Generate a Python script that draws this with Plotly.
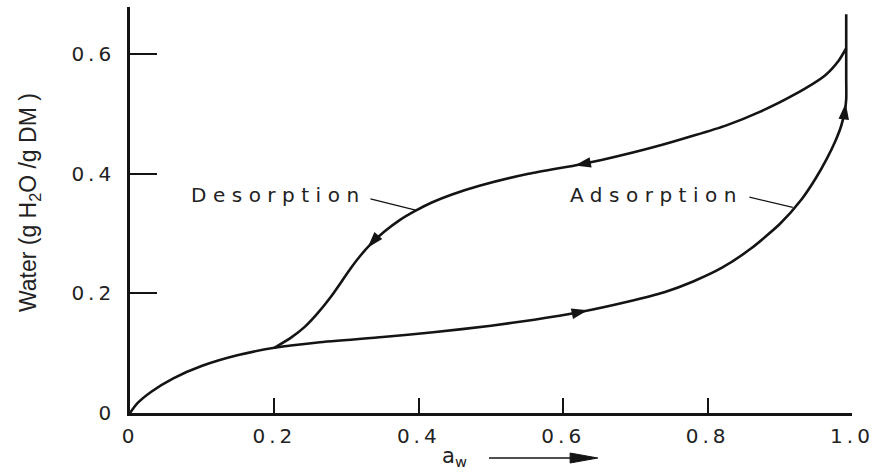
import math
import plotly.graph_objects as go

# ---------------- data ----------------
ads_aw = [0.0, 0.010, 0.030, 0.060, 0.100, 0.150, 0.200, 0.260, 0.350, 0.420,
          0.500, 0.560, 0.620, 0.689, 0.740, 0.780, 0.820, 0.860, 0.900, 0.930,
          0.950, 0.965, 0.977, 0.985, 0.990, 0.992, 0.992, 0.992]
ads_water = [0.0, 0.016, 0.036, 0.058, 0.079, 0.097, 0.109, 0.118, 0.127, 0.135,
             0.146, 0.156, 0.168, 0.186, 0.202, 0.220, 0.243, 0.275, 0.316, 0.357,
             0.393, 0.425, 0.455, 0.480, 0.505, 0.525, 0.560, 0.667]

des_aw = [0.992, 0.982, 0.963, 0.918, 0.873, 0.826, 0.736, 0.653, 0.616, 0.552,
          0.484, 0.445, 0.418, 0.395, 0.374, 0.352, 0.333, 0.319, 0.305, 0.292,
          0.278, 0.260, 0.242, 0.223, 0.200]
des_water = [0.610, 0.590, 0.565, 0.531, 0.504, 0.481, 0.448, 0.423, 0.414, 0.400,
             0.380, 0.365, 0.352, 0.338, 0.323, 0.303, 0.282, 0.263, 0.241, 0.218,
             0.194, 0.167, 0.144, 0.126, 0.109]

# arrow tips along the curves (direction of travel)
arrow_des_aw = [0.616, 0.329]
arrow_ads_aw = [0.634]
arrow_ads_water = [0.518]

x_ticks = [0, 0.2, 0.4, 0.6, 0.8, 1.0]
x_tick_labels = ["0", "0.2", "0.4", "0.6", "0.8", "1.0"]
y_ticks = [0, 0.2, 0.4, 0.6]
y_tick_labels = ["0", "0.2", "0.4", "0.6"]

# ---------------- layout geometry ----------------
W, H = 881, 472
ML, MR, MT, MB = 130, 21, 7, 59
X_RANGE = [0, 1.0]
Y_RANGE = [0, 0.679]
PW, PH = W - ML - MR, H - MT - MB
SX = PW / (X_RANGE[1] - X_RANGE[0])
SY = PH / (Y_RANGE[1] - Y_RANGE[0])

INK = "#141414"
TEXT = "#222222"
TICK_FONT = dict(family="DejaVu Sans, sans-serif", size=20, color=TEXT)


def point_on_curve(xs, ys, key, value):
    """Point on polyline where coordinate `key` reaches `value`, plus travel direction."""
    ks = xs if key == "x" else ys
    for i in range(len(xs) - 1):
        a, b = ks[i], ks[i + 1]
        if a != b and min(a, b) <= value <= max(a, b):
            t = (value - a) / (b - a)
            px = xs[i] + t * (xs[i + 1] - xs[i])
            py = ys[i] + t * (ys[i + 1] - ys[i])
            return px, py, xs[i + 1] - xs[i], ys[i + 1] - ys[i]
    raise ValueError("value not on curve")


def arrow_angle(dx, dy):
    return math.degrees(math.atan2(dx * SX, dy * SY))


arrows = []
for v in arrow_des_aw:
    arrows.append(point_on_curve(des_aw, des_water, "x", v))
for v in arrow_ads_aw:
    arrows.append(point_on_curve(ads_aw, ads_water, "x", v))
for v in arrow_ads_water:
    arrows.append(point_on_curve(ads_aw, ads_water, "y", v))

fig = go.Figure()
line_style = dict(color=INK, width=2.6, shape="spline", smoothing=0.6)
fig.add_trace(go.Scatter(x=ads_aw, y=ads_water, mode="lines", line=line_style,
                         name="Adsorption", hoverinfo="skip"))
fig.add_trace(go.Scatter(x=des_aw, y=des_water, mode="lines", line=line_style,
                         name="Desorption", hoverinfo="skip"))
fig.add_trace(go.Scatter(
    x=[a[0] for a in arrows], y=[a[1] for a in arrows], mode="markers",
    marker=dict(symbol="arrow", size=17, color=INK,
                angle=[arrow_angle(a[2], a[3]) for a in arrows],
                line=dict(width=0)),
    hoverinfo="skip", cliponaxis=False))


def spaced(t, sp):
    return f'<span style="letter-spacing:{sp}px">{t}</span>'


label_font = dict(family="DejaVu Sans, sans-serif", size=20, color=TEXT)
annotations = [
    dict(x=0.205, y=0.365, xref="x", yref="y", text=spaced("Desorption", 6.5),
         showarrow=False, font=label_font, xanchor="center", yanchor="middle"),
    dict(x=0.729, y=0.365, xref="x", yref="y", text=spaced("Adsorption", 6.5),
         showarrow=False, font=label_font, xanchor="center", yanchor="middle"),
    # y-axis title
    dict(x=-(ML - 28) / PW, y=(H - MB - 203) / PH, xref="paper", yref="paper",
         text="Water (g H<sub>2</sub>O /g DM )", textangle=-90, showarrow=False,
         font=dict(family="Liberation Sans Narrow, Arial Narrow, sans-serif", size=23,
                   color=TEXT),
         xanchor="center", yanchor="middle"),
    # x-axis title
    dict(x=(458 - ML) / PW, y=(H - MB - 457) / PH, xref="paper", yref="paper",
         text="a<sub>w</sub>", borderpad=0,
         showarrow=False, font=dict(family="DejaVu Sans, sans-serif", size=21, color=TEXT),
         xanchor="center", yanchor="middle"),
]

ay = (H - MB - 458) / PH
tail_x, base_x, tip_x = (493 - ML) / PW, (575 - ML) / PW, (603 - ML) / PW
hh = 5 / PH
shapes = [
    dict(type="line", xref="x", yref="y", x0=0.333, y0=0.358, x1=0.397, y1=0.339,
         line=dict(color=INK, width=1.2)),
    dict(type="line", xref="x", yref="y", x0=0.858, y0=0.361, x1=0.918, y1=0.344,
         line=dict(color=INK, width=1.2)),
    dict(type="line", xref="paper", yref="paper", x0=tail_x, y0=ay, x1=base_x + 0.005, y1=ay,
         line=dict(color=INK, width=1.6)),
    dict(type="path", xref="paper", yref="paper",
         path=f"M{base_x},{ay - hh} L{tip_x},{ay} L{base_x},{ay + hh} Z",
         fillcolor=INK, line=dict(color=INK, width=1)),
]

axis_common = dict(showline=True, linecolor=INK, linewidth=2.6, ticks="inside",
                   tickcolor=INK, tickwidth=1.5, showgrid=False, zeroline=False,
                   tickfont=TICK_FONT, fixedrange=True, ticklabeloverflow="allow")

fig.update_layout(
    width=W, height=H,
    margin=dict(l=ML, r=MR, t=MT, b=MB, pad=0),
    paper_bgcolor="white", plot_bgcolor="white",
    showlegend=False,
    xaxis=dict(range=X_RANGE, tickvals=x_ticks,
               ticktext=[spaced(t, 4) for t in x_tick_labels],
               ticklen=15, ticklabelstandoff=3, **axis_common),
    yaxis=dict(range=Y_RANGE, tickvals=y_ticks,
               ticktext=[spaced(t, 4) for t in y_tick_labels],
               ticklen=27, ticklabelstandoff=8, **axis_common),
    annotations=annotations,
    shapes=shapes,
)

fig.write_html("out.html")
